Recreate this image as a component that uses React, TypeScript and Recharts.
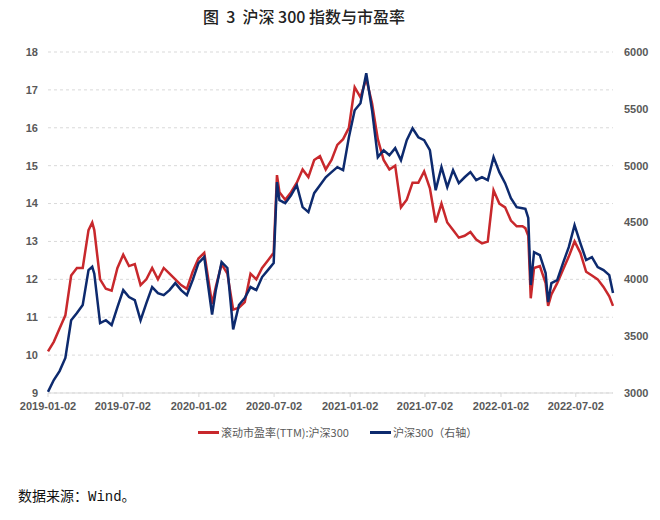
import React from 'react';
import { LineChart, Line, XAxis, YAxis, CartesianGrid } from 'recharts';

const DATES = [
  '2019-01-02', '2019-01-16', '2019-01-30', '2019-02-13', '2019-02-27', '2019-03-13', '2019-03-27', '2019-04-10', '2019-04-19', '2019-04-24',
  '2019-05-08', '2019-05-22', '2019-06-05', '2019-06-19', '2019-07-03', '2019-07-17', '2019-07-31', '2019-08-14', '2019-08-28', '2019-09-11',
  '2019-09-25', '2019-10-09', '2019-10-23', '2019-11-06', '2019-11-20', '2019-12-04', '2019-12-18', '2020-01-01', '2020-01-15', '2020-02-03',
  '2020-02-12', '2020-02-26', '2020-03-11', '2020-03-25', '2020-04-08', '2020-04-22', '2020-05-06', '2020-05-20', '2020-06-03', '2020-06-17',
  '2020-07-01', '2020-07-09', '2020-07-15', '2020-07-29', '2020-08-12', '2020-08-26', '2020-09-09', '2020-09-23', '2020-10-07', '2020-10-21',
  '2020-11-04', '2020-11-18', '2020-12-02', '2020-12-16', '2020-12-30', '2021-01-13', '2021-01-27', '2021-02-10', '2021-02-24', '2021-03-10',
  '2021-03-24', '2021-04-07', '2021-04-21', '2021-05-05', '2021-05-19', '2021-06-02', '2021-06-16', '2021-06-30', '2021-07-14', '2021-07-28',
  '2021-08-11', '2021-08-25', '2021-09-08', '2021-09-22', '2021-10-06', '2021-10-20', '2021-11-03', '2021-11-17', '2021-12-01', '2021-12-15',
  '2021-12-29', '2022-01-12', '2022-01-26', '2022-02-09', '2022-02-23', '2022-03-02', '2022-03-09', '2022-03-15', '2022-03-23', '2022-04-06',
  '2022-04-20', '2022-04-26', '2022-05-04', '2022-05-18', '2022-06-01', '2022-06-15', '2022-06-29', '2022-07-13', '2022-07-27', '2022-08-10',
  '2022-08-24', '2022-09-07', '2022-09-21', '2022-09-30',
];

// 滚动市盈率(TTM):沪深300 (left axis)
const PE_TTM = [
  10.1, 10.35, 10.7, 11.05, 12.1, 12.3, 12.3, 13.3, 13.5, 13.3,
  12.0, 11.75, 11.7, 12.3, 12.65, 12.35, 12.4, 11.85, 12.0, 12.3,
  12.0, 12.3, 12.15, 12.0, 11.85, 11.75, 12.2, 12.55, 12.7, 11.35,
  11.8, 12.4, 12.15, 11.2, 11.25, 11.4, 12.15, 12.0, 12.3, 12.5,
  12.7, 14.75, 14.3, 14.1, 14.3, 14.55, 14.9, 14.7, 15.15, 15.25,
  14.9, 15.15, 15.55, 15.7, 16.0, 17.07, 16.8, 17.3, 16.65, 15.7,
  15.15, 14.9, 15.0, 13.9, 14.1, 14.55, 14.55, 14.85, 14.4, 13.5,
  14.0, 13.5, 13.3, 13.1, 13.15, 13.25, 13.05, 12.95, 13.0, 14.35,
  14.0, 13.9, 13.55, 13.4, 13.4, 13.35, 13.15, 11.5, 12.3, 12.35,
  11.9, 11.3, 11.6, 11.9, 12.25, 12.6, 13.0, 12.7, 12.2, 12.1,
  12.0, 11.8, 11.55, 11.3,
];

// 沪深300 (right axis)
const CSI300 = [
  3010, 3114, 3193, 3308, 3640, 3703, 3774, 4081, 4110, 4050,
  3615, 3640, 3598, 3756, 3905, 3844, 3817, 3640, 3790, 3932,
  3879, 3861, 3905, 3967, 3905, 3861, 3993, 4143, 4196, 3690,
  3905, 4152, 4100, 3560, 3774, 3835, 3932, 3905, 4020, 4081,
  4143, 4855, 4697, 4670, 4740, 4828, 4635, 4591, 4758, 4828,
  4898, 4943, 4987, 4960, 5250, 5488, 5549, 5813, 5488, 5075,
  5136, 5092, 5154, 5048, 5224, 5329, 5250, 5224, 5136, 4784,
  4987, 4811, 4960, 4846, 4898, 4943, 4872, 4898, 4872, 5075,
  4943, 4846, 4714, 4635, 4626, 4620, 4540, 3950, 4239, 4213,
  4055, 3800, 3967, 3993, 4143, 4283, 4477, 4319, 4170, 4196,
  4108, 4081, 4037, 3880,
];

const X_TICKS = ['2019-01-02', '2019-07-02', '2020-01-02', '2020-07-02', '2021-01-02', '2021-07-02', '2022-01-02', '2022-07-02'];
const X_START = '2019-01-02';
const X_END = '2022-09-30';
const LEFT_TICKS = [9, 10, 11, 12, 13, 14, 15, 16, 17, 18];
const RIGHT_TICKS = [3000, 3500, 4000, 4500, 5000, 5500, 6000];

const TITLE = '图  3  沪深 300 指数与市盈率';
const SERIES_PE = '滚动市盈率(TTM):沪深300';
const SERIES_IDX = '沪深300（右轴）';
const SOURCE = '数据来源：Wind。';

const RED = '#C8282C';
const BLUE = '#0D2A6E';

const toTs = (s: string) => Date.parse(s + 'T00:00:00Z');
const fmt = (t: number) => new Date(t).toISOString().slice(0, 10);

const data = DATES.map((d, i) => ({ t: toTs(d), pe: PE_TTM[i], idx: CSI300[i] }));

const tickStyle = { fill: '#595959', fontSize: 11, fontWeight: 700, fontFamily: '"Liberation Sans", Arial, sans-serif' };

export default function App() {
  return (
    <div style={{ position: 'absolute', left: 0, top: 0, width: 660, height: 520, background: '#fff', fontFamily: '"Noto Sans CJK SC", sans-serif' }}>
      <div style={{ position: 'absolute', left: 0, top: 8, width: 608, textAlign: 'center', fontSize: 16, lineHeight: '16px', fontWeight: 500, color: '#222', whiteSpace: 'pre' }}>
        {TITLE}
      </div>
      <div style={{ position: 'absolute', left: 0, top: 0 }}>
        <LineChart width={660} height={420} data={data} margin={{ top: 52, right: 7, bottom: 7, left: 8 }}>
          <CartesianGrid yAxisId="left" horizontal vertical={false} stroke="#d9d9d9" strokeDasharray="3 3" />
          <XAxis
            dataKey="t"
            type="number"
            scale="time"
            domain={[toTs(X_START), toTs(X_END)]}
            ticks={X_TICKS.map(toTs)}
            tickFormatter={fmt}
            interval={0}
            height={20}
            axisLine={{ stroke: '#d9d9d9' }}
            tickLine={{ stroke: '#d9d9d9' }}
            tickSize={4}
            tickMargin={5}
            tick={tickStyle}
          />
          <YAxis
            yAxisId="left"
            domain={[9, 18]}
            ticks={LEFT_TICKS}
            interval={0}
            axisLine={false}
            tickLine={false}
            tickSize={0}
            tickMargin={10}
            width={40}
            tick={tickStyle}
          />
          <YAxis
            yAxisId="right"
            orientation="right"
            domain={[3000, 6000]}
            ticks={RIGHT_TICKS}
            interval={0}
            axisLine={false}
            tickLine={false}
            tickSize={0}
            tickMargin={11}
            width={40}
            tick={tickStyle}
          />
          <Line yAxisId="left" dataKey="pe" type="linear" stroke={RED} strokeWidth={2.5} dot={false} isAnimationActive={false} />
          <Line yAxisId="right" dataKey="idx" type="linear" stroke={BLUE} strokeWidth={2.5} dot={false} isAnimationActive={false} />
        </LineChart>
      </div>
      <div style={{ position: 'absolute', left: 198, top: 425, display: 'flex', alignItems: 'center', fontSize: 11, lineHeight: '14px', color: '#595959' }}>
        <span style={{ display: 'inline-block', width: 21, height: 3, background: RED }} />
        <span style={{ marginLeft: 2 }}>{SERIES_PE}</span>
        <span style={{ display: 'inline-block', width: 21, height: 3, background: BLUE, marginLeft: 21 }} />
        <span style={{ marginLeft: 2 }}>{SERIES_IDX}</span>
      </div>
      <div style={{ position: 'absolute', left: 18, top: 488, fontSize: 14, lineHeight: '18px', color: '#111', fontFamily: '"Liberation Mono", "Noto Sans CJK SC", monospace' }}>
        {SOURCE}
      </div>
    </div>
  );
}
